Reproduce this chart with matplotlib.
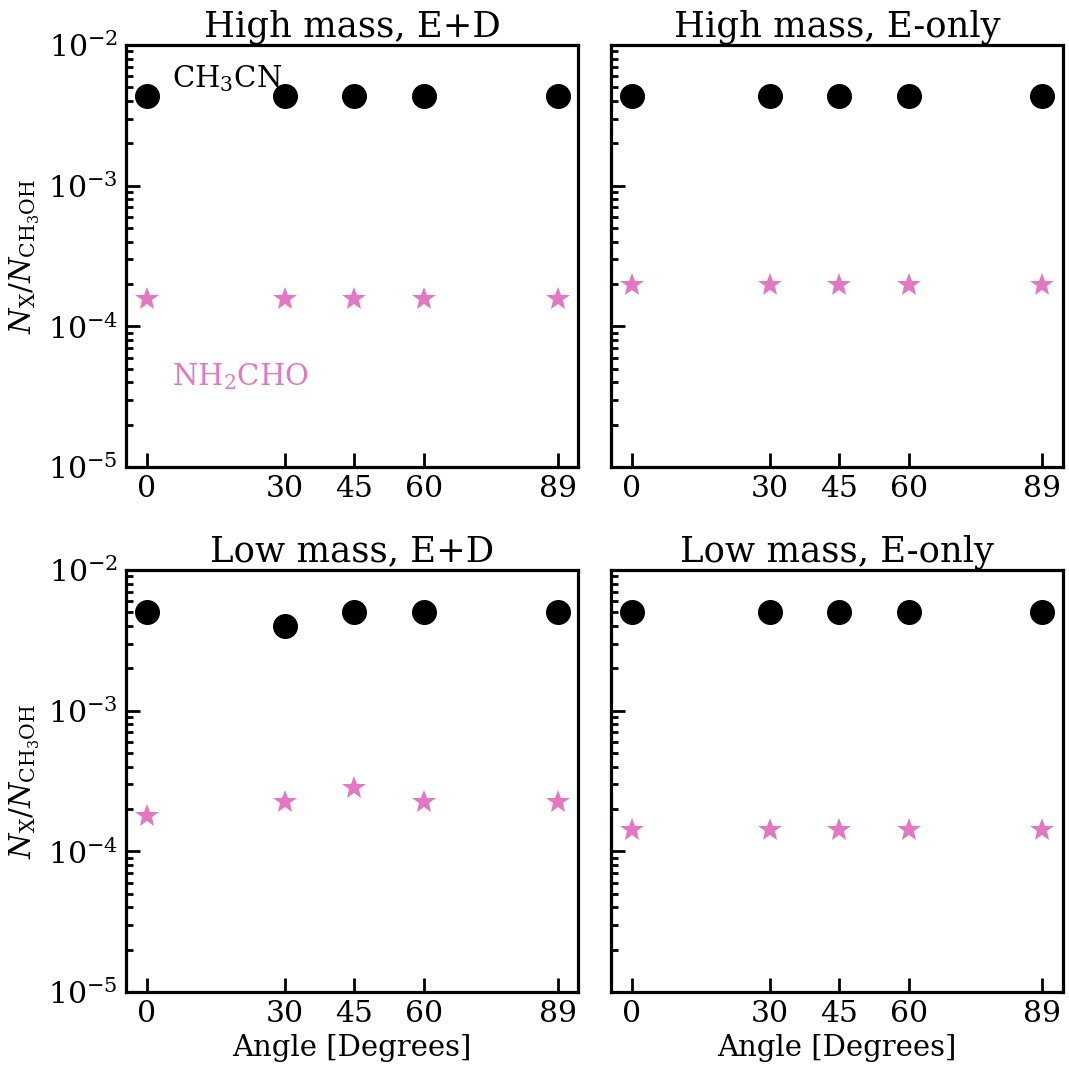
import numpy as np
import matplotlib
matplotlib.use('Agg')
from matplotlib import pyplot as plt

plt.rcParams['font.family'] = 'DejaVu Serif'
plt.rcParams['mathtext.fontset'] = 'dejavuserif'

angles = [0, 30, 45, 60, 89]
titles = ['High mass, E+D', 'High mass, E-only', 'Low mass, E+D', 'Low mass, E-only']

ch3cn = [
    [4.35e-3, 4.35e-3, 4.35e-3, 4.35e-3, 4.35e-3],
    [4.35e-3, 4.35e-3, 4.35e-3, 4.35e-3, 4.35e-3],
    [5.0e-3, 4.0e-3, 5.0e-3, 5.0e-3, 5.0e-3],
    [5.0e-3, 5.0e-3, 5.0e-3, 5.0e-3, 5.0e-3],
]
nh2cho = [
    [1.57e-4, 1.57e-4, 1.57e-4, 1.57e-4, 1.57e-4],
    [1.97e-4, 1.97e-4, 1.97e-4, 1.97e-4, 1.97e-4],
    [1.79e-4, 2.24e-4, 2.8e-4, 2.24e-4, 2.24e-4],
    [1.42e-4, 1.42e-4, 1.42e-4, 1.42e-4, 1.42e-4],
]

fig, axes = plt.subplots(2, 2, figsize=(10.69, 10.66), dpi=100, sharey=True)
plt.subplots_adjust(left=0.118, right=0.9944, top=0.9578, bottom=0.0694,
                    wspace=0.073, hspace=0.244)

for i, ax in enumerate(axes.flat):
    ax.plot(angles, ch3cn[i], 'o', color='black', markersize=17)
    ax.plot(angles, nh2cho[i], '*', color='#e377c2', markersize=18, markeredgewidth=0)
    ax.set_yscale('log')
    ax.set_ylim(1e-5, 1e-2)
    ax.set_xticks(angles)
    ax.set_title(titles[i], fontsize=25.5)
    ax.tick_params(axis='both', which='major', direction='in', length=10, width=2,
                   labelsize=21.5, pad=6)
    ax.tick_params(axis='both', which='minor', direction='in', length=5, width=2)
    ax.xaxis.set_tick_params(which='minor', bottom=False)
    for s in ax.spines.values():
        s.set_linewidth(2.3)
    if i % 2 == 0:
        ax.set_ylabel(r'$N_\mathrm{X}/N_\mathrm{CH_3OH}$', fontsize=21)
    if i >= 2:
        ax.set_xlabel('Angle [Degrees]', fontsize=21)

axes[0, 0].text(5.5, 5.8e-3, r'CH$_3$CN', fontsize=21, color='black', va='center')
axes[0, 0].text(5.5, 4.4e-5, r'NH$_2$CHO', fontsize=21, color='#e377c2', va='center')

plt.savefig('out.png')
